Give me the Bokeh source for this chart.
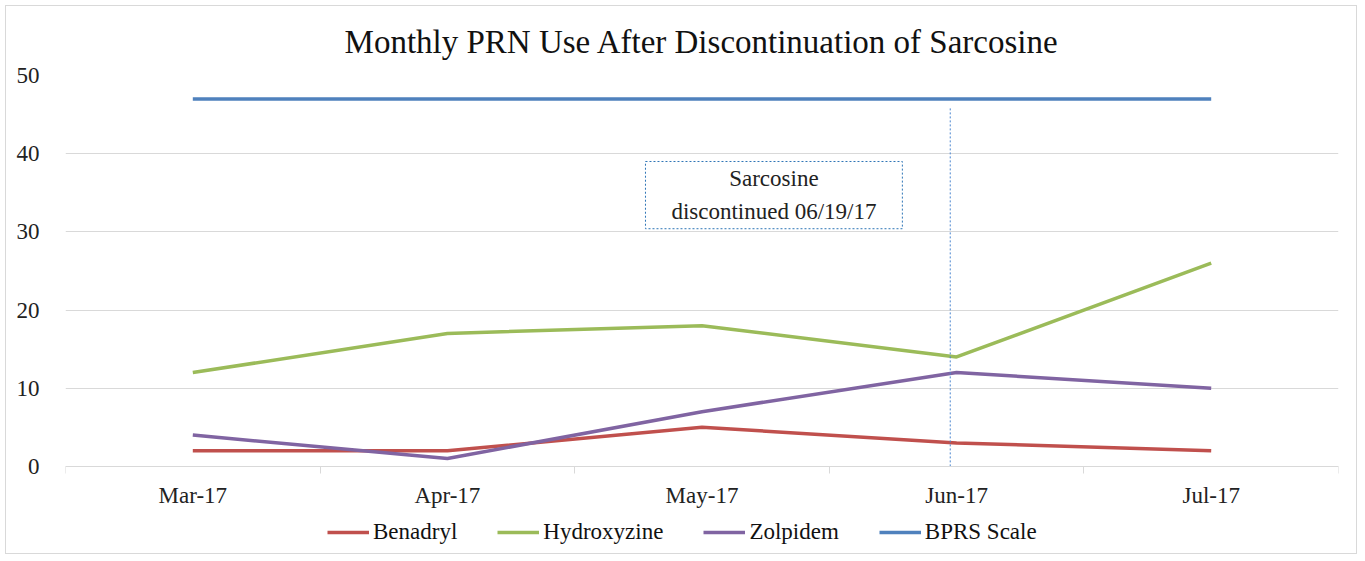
from bokeh.plotting import figure
from bokeh.models import (Legend, LegendItem, FixedTicker, BoxAnnotation, Label, Title)
from bokeh.embed import file_html
from bokeh.resources import INLINE

months = ["Mar-17", "Apr-17", "May-17", "Jun-17", "Jul-17"]
benadryl = [2, 2, 5, 3, 2]
hydroxyzine = [12, 17, 18, 14, 26]
zolpidem = [4, 1, 7, 12, 10]
bprs = [47, 47, 47, 47, 47]
y_ticks = [0, 10, 20, 30, 40, 50]

# annotation: discontinuation marker just before the Jun-17 point
marker_month = "Jun-17"
marker_offset = -0.025
marker_top = 45.9
note_text = "Sarcosine\ndiscontinued 06/19/17"
note_box = dict(left=2.278, right=3.287, bottom=30.4, top=39.0)

xs = [i + 0.5 for i in range(len(months))]
SERIF = "Liberation Serif"

p = figure(width=1352, height=549, output_backend="svg", toolbar_location=None,
           x_range=(0, len(months)), y_range=(-11.4, 50),
           min_border_left=59, min_border_right=20, min_border_top=69, min_border_bottom=0)
p.styles = {"border": "1px solid #d9d9d9", "margin": "5px"}
p.outline_line_color = None
p.background_fill_color = "white"
p.border_fill_color = "white"

t = Title(text="Monthly PRN Use After Discontinuation of Sarcosine", align="center",
          text_font=SERIF, text_font_size="33px", text_font_style="normal",
          text_color="#111111", standoff=31, offset=-18)
p.add_layout(t, "above")

# x axis drawn at y = 0 inside the frame, with ticks at category boundaries
p.xaxis.fixed_location = 0
p.xaxis.ticker = FixedTicker(ticks=xs, minor_ticks=list(range(len(months) + 1)))
p.xaxis.major_label_overrides = {x: m for x, m in zip(xs, months)}
p.xaxis.major_tick_line_color = None
p.xaxis.major_tick_out = 0
p.xaxis.major_tick_in = 0
p.xaxis.minor_tick_line_color = "#d9d9d9"
p.xaxis.minor_tick_out = 7
p.xaxis.minor_tick_in = 0
p.xaxis.axis_line_color = "#d9d9d9"
p.xaxis.major_label_text_font = SERIF
p.xaxis.major_label_text_font_size = "23px"
p.xaxis.major_label_text_color = "#222222"
p.xaxis.major_label_standoff = 10

p.yaxis.ticker = FixedTicker(ticks=y_ticks)
p.yaxis.axis_line_color = None
p.yaxis.major_tick_line_color = None
p.yaxis.minor_tick_line_color = None
p.yaxis.major_label_text_font = SERIF
p.yaxis.major_label_text_font_size = "23px"
p.yaxis.major_label_text_color = "#222222"
p.yaxis.major_label_standoff = 20

p.xgrid.grid_line_color = None
p.ygrid.grid_line_color = "#d9d9d9"
p.ygrid.grid_line_width = 1

series = [("Benadryl", benadryl, "#c0504d"),
          ("Hydroxyzine", hydroxyzine, "#9bbb59"),
          ("Zolpidem", zolpidem, "#8064a2"),
          ("BPRS Scale", bprs, "#4f81bd")]
items = []
for name, vals, col in series:
    r = p.line(xs, vals, line_color=col, line_width=3.5)
    items.append(LegendItem(label=name, renderers=[r]))

# vertical dashed marker
mx = xs[months.index(marker_month)] + marker_offset
p.segment(x0=[mx], y0=[0], x1=[mx], y1=[marker_top], line_color="#4a86d0",
          line_width=1, line_dash="2 2")

box = BoxAnnotation(fill_color=None, line_color="#2e75b6", line_alpha=1, line_width=1,
                    line_dash="2 2", **note_box)
p.add_layout(box)
lbl = Label(x=(note_box["left"] + note_box["right"]) / 2,
            y=(note_box["top"] + note_box["bottom"]) / 2,
            text=note_text, text_align="center", text_baseline="middle",
            text_font=SERIF, text_font_size="23px", text_color="#222222",
            text_line_height=1.3)
p.add_layout(lbl)

legend = Legend(items=items, orientation="horizontal", location=(262, 10),
                label_text_font=SERIF, label_text_font_size="23px",
                label_text_color="#111111", glyph_width=42, glyph_height=20,
                label_standoff=4, spacing=40, border_line_color=None,
                background_fill_alpha=0, padding=0, margin=0)
p.add_layout(legend)

open("out.html", "w").write(file_html(p, INLINE))
